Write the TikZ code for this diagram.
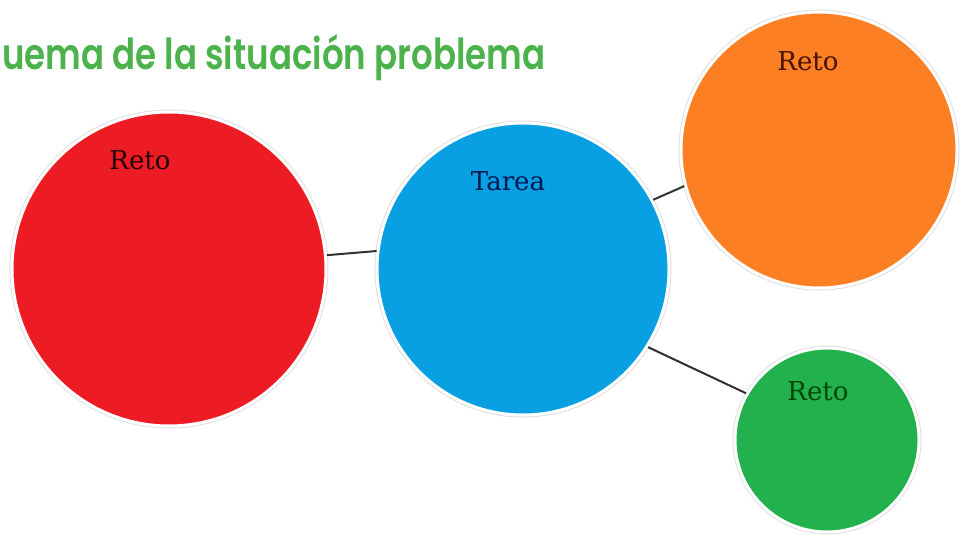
\documentclass[tikz,border=0pt]{standalone}
\usepackage{fontspec}
\setmainfont{DejaVu Serif}
\newfontfamily\titlefont{Poppins SemiBold}
\definecolor{cred}{RGB}{237,28,36}
\definecolor{cblue}{RGB}{8,160,226}
\definecolor{corange}{RGB}{252,127,36}
\definecolor{cgreen}{RGB}{34,177,76}
\definecolor{ctitle}{RGB}{76,178,76}
\definecolor{cline}{RGB}{50,50,50}
\begin{document}
\begin{tikzpicture}[x=1pt,y=-1pt,
  circ/.style={circle, inner sep=0pt, draw=white, line width=3pt,
    preaction={draw=black!12, line width=5pt}},
  lbl/.style={font=\fontsize{26}{28}\selectfont, inner sep=0pt, text opacity=0.85},
  conn/.style={draw=cline, line width=2pt}]
\useasboundingbox[fill=white] (0,0) rectangle (961,537);
\node[anchor=base west, inner sep=0pt, text=ctitle] (title) at (2,70)
  {\resizebox{543pt}{35pt}{\titlefont uema de la situación problema}};
\node[circ, fill=cred, minimum size=314pt] (red) at (169,269) {};
\node[circ, fill=cblue, minimum size=292pt] (blue) at (523,269) {};
\node[circ, fill=corange, minimum size=276pt] (orange) at (819,150) {};
\node[circ, fill=cgreen, minimum size=184pt] (green) at (827,440) {};
\node[lbl, text=black] (tred) at (140,160) {Reto};
\node[lbl, text=black!80!blue] (tblue) at (508,181) {Tarea};
\node[lbl, text=black!85!red] (torange) at (808,61) {Reto};
\node[lbl, text=black!80!green] (tgreen) at (818,391) {Reto};
\draw[conn] (red.5.8) -- (blue.173.8);
\draw[conn] (blue.28) -- (orange.195);
\draw[conn] (blue.-32) -- (green.150.3);
\end{tikzpicture}
\end{document}
